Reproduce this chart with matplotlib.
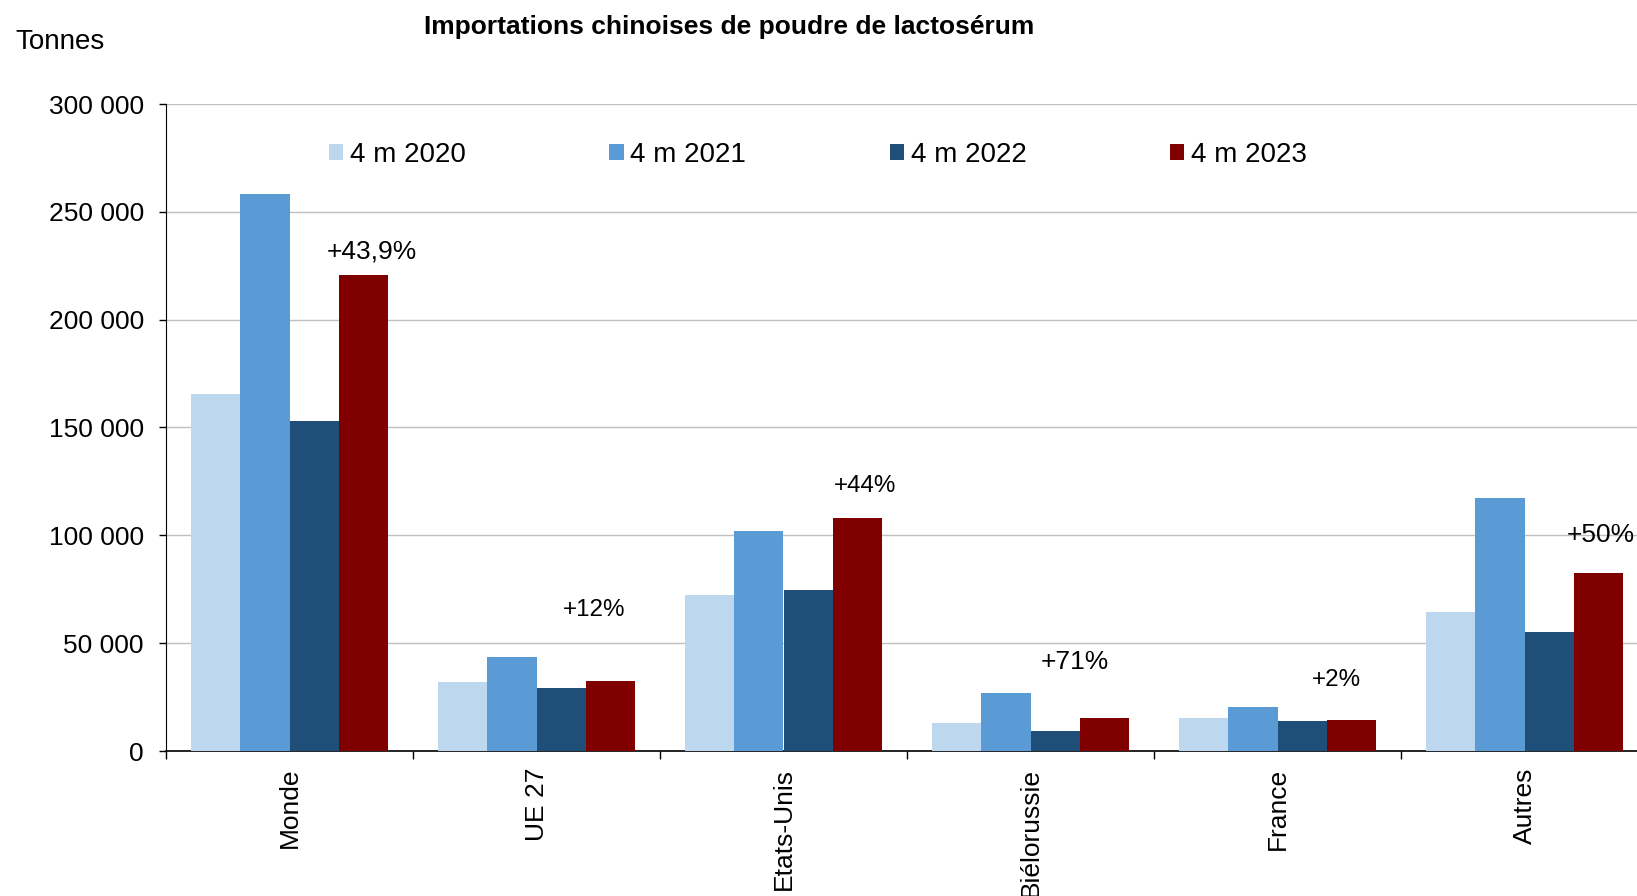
import matplotlib
matplotlib.use("Agg")
import matplotlib.pyplot as plt
import numpy as np
from matplotlib.patches import Patch

categories = ["Monde", "UE 27", "Etats-Unis", "Biélorussie", "France", "Autres"]
series_names = ["4 m 2020", "4 m 2021", "4 m 2022", "4 m 2023"]
v2020 = [165500, 32000, 72200, 13100, 15500, 64300]
v2021 = [258100, 43700, 102200, 27100, 20400, 117400]
v2022 = [153100, 29100, 74600, 9200, 14100, 55000]
v2023 = [220700, 32500, 108000, 15500, 14500, 82700]
pct_labels = ["+43,9%", "+12%", "+44%", "+71%", "+2%", "+50%"]
pct_label_y = [231400, 65200, 122900, 41400, 32700, 100100]
pct_label_dx = [0.333, 0.233, 0.33, 0.18, 0.24, 0.31]
pct_label_size = [19, 17.4, 17.4, 19, 17.4, 19]
yticks = [0, 50000, 100000, 150000, 200000, 250000, 300000]
ytick_labels = ["0", "50 000", "100 000", "150 000", "200 000", "250 000", "300 000"]

colors = ["#BDD7EE", "#5B9BD5", "#1F4E79", "#800000"]

plt.rcParams['font.family'] = ['Liberation Sans', 'DejaVu Sans']

W, H = 1637, 896
fig = plt.figure(figsize=(W / 100, H / 100), dpi=100)
ax = fig.add_axes([166 / W, (896 - 751) / H, 1482 / W, (751 - 104) / H])

x = np.arange(len(categories))
bw = 0.2
data = [v2020, v2021, v2022, v2023]
for i, (vals, c) in enumerate(zip(data, colors)):
    ax.bar(x + (i - 1.5) * bw, vals, width=bw, color=c, edgecolor='none', zorder=3)

for i, (t, yv, dx, fs) in enumerate(zip(pct_labels, pct_label_y, pct_label_dx, pct_label_size)):
    ax.text(i + dx, yv, t, ha='center', va='center', fontsize=fs, color='black', zorder=4)

ax.set_xlim(-0.5, len(categories) - 0.5)
ax.set_ylim(0, 300000)
ax.set_yticks(yticks)
ax.set_yticklabels(ytick_labels, fontsize=19)
ax.yaxis.grid(True, color='#C0C0C0', linewidth=1.0, zorder=0)
ax.set_axisbelow(True)

ax.set_xticks(np.arange(-0.5, len(categories) + 0.5, 1.0))
ax.set_xticklabels([])
ax.set_xticks(x, minor=True)
ax.set_xticklabels(categories, minor=True, rotation=90, fontsize=19)
ax.tick_params(axis='x', which='major', length=6, width=1, direction='out')
ax.tick_params(axis='x', which='minor', length=0, pad=12)
ax.tick_params(axis='y', length=5, width=1, direction='out', pad=11)

for s in ['top', 'right']:
    ax.spines[s].set_visible(False)
ax.spines['left'].set_color('black')
ax.spines['bottom'].set_color('black')
ax.spines['bottom'].set_linewidth(1.2)

handles = [Patch(facecolor=c, edgecolor='none') for c in colors]
fig.legend(handles, series_names, loc='center left',
           bbox_to_anchor=(329 / W, 1 - 155 / H), ncol=4, frameon=False,
           fontsize=20, handlelength=0.52, handleheight=0.52, handletextpad=0.24,
           columnspacing=5.16, borderpad=0, borderaxespad=0)

fig.text(15 / W, 1 - 42 / H, "Tonnes", fontsize=20, ha='left', va='center')
fig.text(729 / W, 1 - 27 / H, "Importations chinoises de poudre de lactosérum",
         fontsize=19, fontweight='bold', ha='center', va='center')

fig.savefig("out.png", dpi=100)
